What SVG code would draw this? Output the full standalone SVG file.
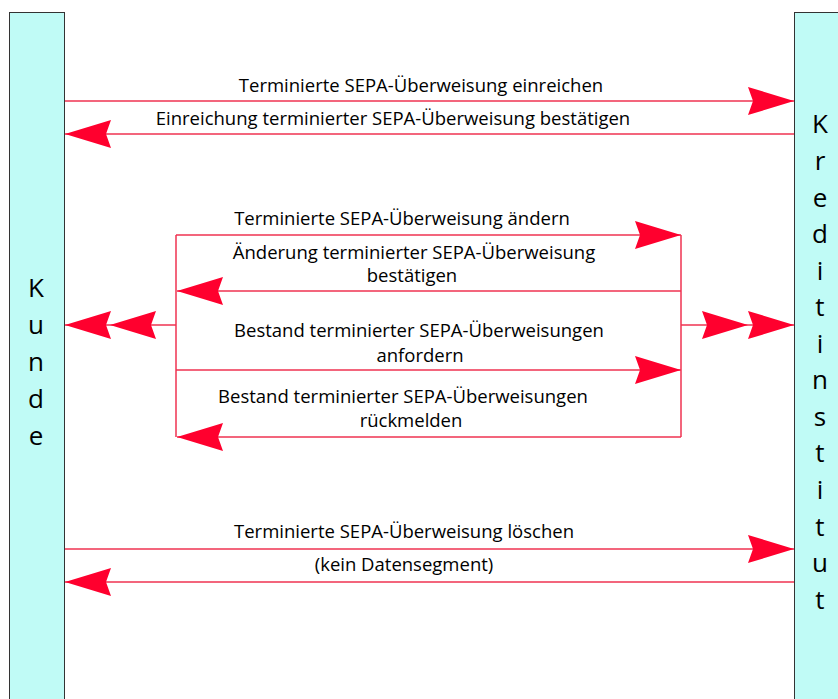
<svg xmlns="http://www.w3.org/2000/svg" width="838" height="699" viewBox="0 0 838 699">
<style>
.box{fill:#c0fbf6;stroke:#333;stroke-width:1}
.lbl{font-family:"Open Sans","Liberation Sans",Arial,sans-serif;font-size:18.5px;fill:#000;text-anchor:middle}
.big{font-family:"Open Sans","Liberation Sans",Arial,sans-serif;font-size:26px;fill:#000;text-anchor:middle}
.ln{fill:none;stroke:#ef3250;stroke-width:1.5}
</style>
<defs>
<marker id="ah" markerUnits="userSpaceOnUse" markerWidth="46" markerHeight="28" viewBox="0 0 46 28" refX="46" refY="14" orient="auto" overflow="visible">
<path d="M0,0 L46,14 L0,28 L5,14 Z" fill="#ff002e"/>
</marker>
</defs>
<g id="kunde">
<rect class="box" x="9.5" y="12.5" width="55" height="700"/>
<text class="big" x="36" y="297">K</text>
<text class="big" x="36" y="334">u</text>
<text class="big" x="36" y="371">n</text>
<text class="big" x="36" y="408">d</text>
<text class="big" x="36" y="445">e</text>
</g>
<g id="kreditinstitut">
<rect class="box" x="794.5" y="12.5" width="60" height="700"/>
<text class="big" x="820" y="133">K</text>
<text class="big" x="820" y="170">r</text>
<text class="big" x="820" y="207">e</text>
<text class="big" x="820" y="243">d</text>
<text class="big" x="820" y="280">i</text>
<text class="big" x="820" y="316">t</text>
<text class="big" x="820" y="353">i</text>
<text class="big" x="820" y="389">n</text>
<text class="big" x="820" y="426">s</text>
<text class="big" x="820" y="462">t</text>
<text class="big" x="820" y="499">i</text>
<text class="big" x="820" y="536">t</text>
<text class="big" x="820" y="572">u</text>
<text class="big" x="820" y="609">t</text>
</g>
<g id="connectors">
<path class="ln" d="M65,101 H794" marker-end="url(#ah)"/>
<path class="ln" d="M794,134 H65" marker-end="url(#ah)"/>
<path class="ln" d="M176,235 H681" marker-end="url(#ah)"/>
<path class="ln" d="M681,291 H177" marker-end="url(#ah)"/>
<path class="ln" d="M176,370 H681" marker-end="url(#ah)"/>
<path class="ln" d="M681,437 H177" marker-end="url(#ah)"/>
<path class="ln" d="M176,235 V437"/>
<path class="ln" d="M681,235 V437"/>
<polyline class="ln" points="176,325 110,325 65,325" marker-mid="url(#ah)" marker-end="url(#ah)"/>
<polyline class="ln" points="681,325 748,325 794,325" marker-mid="url(#ah)" marker-end="url(#ah)"/>
<path class="ln" d="M65,549 H794" marker-end="url(#ah)"/>
<path class="ln" d="M794,582 H65" marker-end="url(#ah)"/>
</g>
<g id="labels">
<text class="lbl" x="421" y="92">Terminierte SEPA-Überweisung einreichen</text>
<text class="lbl" x="393" y="125">Einreichung terminierter SEPA-Überweisung bestätigen</text>
<text class="lbl" x="402" y="225">Terminierte SEPA-Überweisung ändern</text>
<text class="lbl" x="414" y="259">Änderung terminierter SEPA-Überweisung</text>
<text class="lbl" x="412" y="282">bestätigen</text>
<text class="lbl" x="419" y="337">Bestand terminierter SEPA-Überweisungen</text>
<text class="lbl" x="420" y="362">anfordern</text>
<text class="lbl" x="403" y="403">Bestand terminierter SEPA-Überweisungen</text>
<text class="lbl" x="411" y="427">rückmelden</text>
<text class="lbl" x="404" y="538">Terminierte SEPA-Überweisung löschen</text>
<text class="lbl" x="404" y="571">(kein Datensegment)</text>
</g>
</svg>
